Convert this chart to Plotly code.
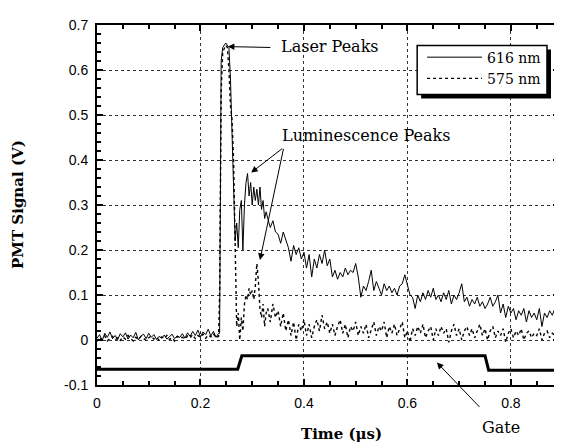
import plotly.graph_objects as go

# ---------------- data ----------------
step_us = 0.005

# 616 nm (solid)
s616_base = [0.004, 0.012, -0.002, 0.015, 0.006, 0.018, 0.003, 0.010, 0.001, 0.014, 0.007, 0.016,
             0.002, 0.011, 0.005, 0.017, 0.000, 0.009, 0.013, 0.003, 0.015, 0.006, 0.012, 0.001,
             0.008, 0.004, 0.011, 0.002, 0.007, 0.013, 0.003, 0.009, 0.006, 0.014, 0.004, 0.016,
             0.008, 0.019, 0.010, 0.022, 0.007, 0.018, 0.012, 0.024, 0.009, 0.019, 0.006, 0.015]
peak_t = [0.237, 0.240, 0.243, 0.246, 0.249, 0.252, 0.255, 0.258, 0.261, 0.264, 0.267, 0.270,
          0.273, 0.276, 0.279, 0.282, 0.285, 0.288, 0.291, 0.294, 0.297, 0.300, 0.303, 0.306,
          0.309, 0.312, 0.315, 0.318, 0.321, 0.324, 0.327]
s616_peak = [0.015, 0.62, 0.65, 0.655, 0.66, 0.655, 0.65, 0.58, 0.47, 0.33, 0.22, 0.26,
             0.205, 0.29, 0.31, 0.20, 0.30, 0.35, 0.37, 0.32, 0.35, 0.30, 0.34, 0.31,
             0.335, 0.30, 0.34, 0.29, 0.31, 0.27, 0.285]
s616_tail = [0.27, 0.25, 0.265, 0.24, 0.235, 0.215, 0.24, 0.22, 0.205, 0.175, 0.21, 0.19,
             0.205, 0.18, 0.195, 0.16, 0.19, 0.14, 0.18, 0.16, 0.19, 0.17, 0.20, 0.165,
             0.18, 0.14, 0.155, 0.135, 0.15, 0.14, 0.16, 0.145, 0.155, 0.15, 0.17, 0.14,
             0.095, 0.12, 0.11, 0.13, 0.155, 0.11, 0.13, 0.115, 0.10, 0.125, 0.11, 0.12,
             0.105, 0.115, 0.10, 0.12, 0.125, 0.145, 0.12, 0.10, 0.095, 0.07, 0.10, 0.085,
             0.105, 0.09, 0.11, 0.095, 0.115, 0.09, 0.10, 0.085, 0.105, 0.09, 0.11, 0.08,
             0.10, 0.09, 0.105, 0.125, 0.085, 0.095, 0.075, 0.09, 0.08, 0.095, 0.075, 0.085,
             0.07, 0.08, 0.095, 0.075, 0.085, 0.10, 0.06, 0.08, 0.05, 0.075, 0.06, 0.07,
             0.045, 0.065, 0.055, 0.07, 0.04, 0.065, 0.05, 0.06, 0.045, 0.07, 0.03, 0.06,
             0.05, 0.065, 0.055, 0.07, 0.06, 0.075, 0.065]

# 575 nm (dashed)
s575_base = [-0.003, 0.006, 0.001, 0.009, -0.002, 0.004, 0.008, 0.000, 0.005, -0.001, 0.007, 0.002,
             0.010, 0.003, -0.002, 0.006, 0.001, 0.008, 0.004, -0.001, 0.005, 0.009, 0.002, 0.006,
             0.000, 0.007, 0.003, 0.010, 0.001, 0.005, -0.002, 0.008, 0.004, 0.006, 0.002, 0.009,
             0.005, 0.012, 0.003, 0.010, 0.006, 0.013, 0.004, 0.011, 0.007, 0.014, 0.005, 0.008]
s575_peak = [0.10, 0.55, 0.64, 0.65, 0.655, 0.65, 0.60, 0.52, 0.49, 0.40, 0.20, 0.03,
             0.06, 0.00, 0.05, 0.02, 0.08, 0.10, 0.09, 0.115, 0.10, 0.11, 0.09, 0.12,
             0.17, 0.13, 0.07, 0.05, 0.08, 0.03, 0.06]
s575_tail = [0.07, 0.04, 0.08, 0.05, 0.065, 0.03, 0.06, 0.02, 0.045, 0.01, 0.04, 0.00,
             0.035, 0.02, 0.045, 0.01, 0.035, 0.005, 0.03, 0.045, 0.02, 0.055, 0.025, 0.04,
             0.015, 0.035, 0.01, 0.03, 0.045, 0.015, 0.035, 0.005, 0.03, 0.02, 0.04, 0.01,
             0.03, 0.015, 0.035, 0.005, 0.025, 0.04, 0.01, 0.03, 0.02, 0.04, 0.005, 0.03,
             0.015, 0.035, 0.01, 0.025, 0.04, 0.005, 0.02, -0.005, 0.025, 0.01, 0.03, 0.015,
             0.035, 0.005, 0.02, 0.03, 0.00, 0.025, 0.01, 0.03, 0.015, 0.025, -0.005, 0.02,
             0.035, 0.01, 0.025, 0.00, 0.02, 0.03, 0.01, 0.025, 0.005, 0.02, 0.035, 0.01,
             0.025, 0.00, 0.02, 0.03, 0.005, 0.02, 0.01, 0.025, -0.005, 0.015, 0.025, 0.005,
             0.02, 0.01, 0.025, 0.00, 0.015, 0.02, 0.005, 0.015, 0.01, 0.025, 0.00, 0.015,
             0.02, 0.005, 0.015, 0.01, 0.02, 0.005, 0.015]

# Gate
gate_t = [0.0, 0.272, 0.280, 0.750, 0.757, 0.9]
gate_v = [-0.065, -0.065, -0.035, -0.035, -0.067, -0.067]

y_ticks = [-0.1, 0, 0.1, 0.2, 0.3, 0.4, 0.5, 0.6, 0.7]
y_labels = ["-0.1", "0", "0.1", "0.2", "0.3", "0.4", "0.5", "0.6", "0.7"]
x_ticks = [0, 0.2, 0.4, 0.6, 0.8]
x_labels = ["0", "0.2", "0.4", "0.6", "0.8"]

# ---------------- build ----------------
base_t = [round(i * step_us, 4) for i in range(len(s616_base))]
tail_t = [round(0.33 + i * step_us, 4) for i in range(len(s616_tail))]

t616 = base_t + peak_t + tail_t
v616 = s616_base + s616_peak + s616_tail
t575 = base_t + peak_t + tail_t
v575 = s575_base + s575_peak + s575_tail

SERIF = "DejaVu Serif"
SANS = "Liberation Sans, Arial, sans-serif"

fig = go.Figure()
fig.add_trace(go.Scatter(x=t616, y=v616, mode="lines", name="616 nm",
                         line=dict(color="black", width=1)))
fig.add_trace(go.Scatter(x=t575, y=v575, mode="lines", name="575 nm",
                         line=dict(color="black", width=1.4, dash="3px,3px")))
fig.add_trace(go.Scatter(x=gate_t, y=gate_v, mode="lines", showlegend=False,
                         line=dict(color="black", width=3)))

axis_common = dict(showline=True, linecolor="black", linewidth=2, mirror="ticks",
                   ticks="inside", tickcolor="black", tickwidth=1.5, ticklen=6,
                   showgrid=True, gridcolor="#333333", gridwidth=1, griddash="dot",
                   zeroline=False, ticklabelstandoff=4,
                   tickfont=dict(family=SANS, size=14, color="black"))

fig.update_xaxes(range=[0, 0.893], tickvals=x_ticks, ticktext=x_labels,
                 minor=dict(dtick=0.05, tick0=0, ticks="inside", ticklen=4,
                            tickcolor="black", tickwidth=1.5, showgrid=False),
                 **axis_common)
fig.update_yaxes(range=[-0.1, 0.7], tickvals=y_ticks, ticktext=y_labels,
                 minor=dict(dtick=0.02, tick0=0, ticks="inside", ticklen=4,
                            tickcolor="black", tickwidth=1.5, showgrid=False),
                 **axis_common)

ann_font = dict(family=SERIF, size=16, color="black")
centered = dict(showarrow=False, xanchor="center", yanchor="middle")
arrow = dict(text="", showarrow=True, arrowhead=2, arrowsize=1.3, arrowwidth=1,
             arrowcolor="black", xref="x", yref="y", axref="x", ayref="y")
annotations = [
    # Laser peaks
    dict(x=0.45, y=0.652, xref="x", yref="y", text="Laser Peaks", font=ann_font, **centered),
    dict(x=0.253, y=0.652, ax=0.338, ay=0.65, **arrow),
    # Luminescence peaks
    dict(x=0.52, y=0.454, xref="x", yref="y", text="Luminescence Peaks", font=ann_font, **centered),
    dict(x=0.298, y=0.372, ax=0.361, ay=0.428, **arrow),
    dict(x=0.315, y=0.178, ax=0.361, ay=0.428, **arrow),
    # Gate
    dict(x=0.874, y=-0.117, xref="paper", yref="paper", text="Gate", font=ann_font, **centered),
    dict(x=0.657, y=-0.05, ax=0.742, ay=-0.152, **arrow),
    # axis titles
    dict(x=-0.171, y=0.503, xref="paper", yref="paper", text="<b>PMT Signal (V)</b>",
         textangle=-90, font=dict(family=SERIF, size=15, color="black"), **centered),
    dict(x=0.53, y=-0.136, xref="paper", yref="paper", text="<b>Time (μs)</b>",
         font=dict(family=SERIF, size=15, color="black"), **centered),
]

# legend frame with drop shadow (drawn as shapes under the transparent legend)
legend_box = dict(x0=0.693, x1=0.974, y0=0.807, y1=0.943)
shadow_px = 4
dx = shadow_px / 462
dy = shadow_px / 368
shapes = [
    dict(type="rect", xref="paper", yref="paper",
         x0=legend_box["x0"] + dx, x1=legend_box["x1"] + dx,
         y0=legend_box["y0"] - dy, y1=legend_box["y1"] - dy,
         fillcolor="black", line=dict(width=0), layer="above"),
    dict(type="rect", xref="paper", yref="paper", **legend_box,
         fillcolor="white", line=dict(color="black", width=1.5), layer="above"),
]

# the page body adds an 8 px offset; margins compensate so the plot area sits where the reference has it
fig.update_layout(
    width=562, height=448,
    margin=dict(l=89, r=11, t=9, b=71),
    paper_bgcolor="white", plot_bgcolor="white",
    annotations=annotations,
    shapes=shapes,
    showlegend=True,
    legend=dict(x=0.972, y=0.954, xanchor="right", yanchor="top",
                bgcolor="rgba(0,0,0,0)", borderwidth=0,
                font=dict(family=SERIF, size=14, color="black"),
                tracegroupgap=0, itemwidth=55),
)

fig.write_html("out.html")
